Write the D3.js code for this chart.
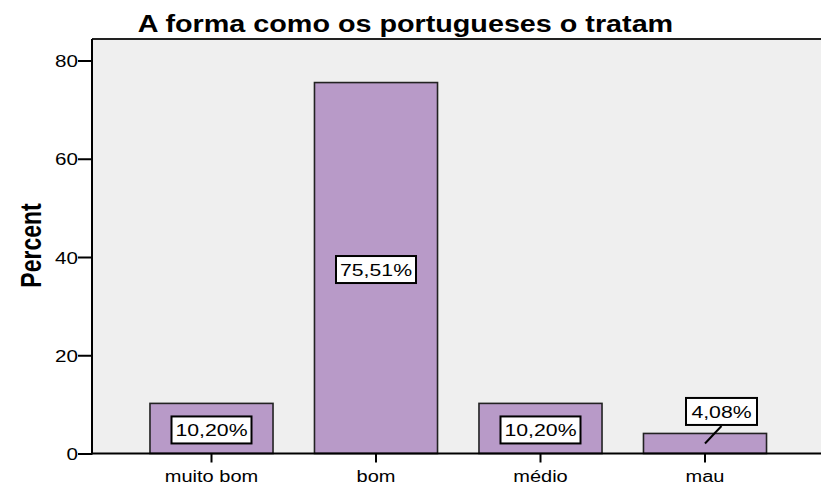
<!DOCTYPE html>
<html>
<head>
<meta charset="utf-8">
<script src="https://cdn.jsdelivr.net/npm/d3@7"></script>
<style>
    body { margin: 0; background: #fff; }
    text { font-family: "Liberation Sans", Arial, sans-serif; fill: #000; }
</style>
</head>
<body>
<div id="chart"></div>
<script>
    /****************************/
    /******data sets & vars******/
    /****************************/
    var categories = ["muito bom", "bom", "médio", "mau"];
    var percents = [10.20, 75.51, 10.20, 4.08];
    var yTicks = [0, 20, 40, 60, 80];
    var title = "A forma como os portugueses o tratam";
    var yTitle = "Percent";

    var w = 821;
    var h = 484;
    var plotLeft = 92;
    var plotTop = 39;
    var plotBottom = 453.5;
    var sx = 1.25;   // the original picture is stretched sideways
    var barFill = "#b89ac8";
    var plotBg = "#efefef";

    var svg = d3.select("#chart")
        .append("svg")
        .attr("width", w)
        .attr("height", h);

    var xScale = d3.scaleBand()
        .domain(categories)
        .range([129.25, 787.25])
        .paddingInner(0.252)
        .paddingOuter(0.126);
    var yScale = d3.scaleLinear()
        .domain([0, 80])
        .range([plotBottom, 60.5]);

    // text helper, everything is drawn with the same horizontal stretch
    function stretchedText(parent, x, y, str, size, weight, anchor, rotate) {
        return parent.append("text")
            .attr("transform", "translate(" + x + "," + y + ") scale(" + sx + ",1)" + (rotate ? " rotate(-90)" : ""))
            .attr("text-anchor", anchor)
            .attr("font-size", size + "px")
            .attr("font-weight", weight)
            .text(str);
    }

    function fmt(d) {
        return d3.format(".2f")(d).replace(".", ",") + "%";
    }

    /****************************/
    /*********plot area**********/
    /****************************/
    svg.append("rect")
        .attr("x", plotLeft)
        .attr("y", plotTop)
        .attr("width", w - plotLeft)
        .attr("height", plotBottom - plotTop)
        .attr("fill", plotBg);
    svg.append("line")
        .attr("x1", plotLeft).attr("x2", w)
        .attr("y1", plotTop).attr("y2", plotTop)
        .attr("stroke", "#222")
        .attr("stroke-width", 2);

    /****************************/
    /***********bars*************/
    /****************************/
    svg.selectAll("rect.bar")
        .data(percents)
        .enter()
        .append("rect")
        .attr("class", "bar")
        .attr("x", function(d, i) { return xScale(categories[i]); })
        .attr("y", function(d) { return yScale(d); })
        .attr("width", xScale.bandwidth())
        .attr("height", function(d) { return plotBottom - yScale(d); })
        .attr("fill", barFill)
        .attr("stroke", "#222")
        .attr("stroke-width", 1.6);

    /****************************/
    /***********axes*************/
    /****************************/
    var yAxis = d3.axisLeft(yScale).tickValues(yTicks).tickSize(14).tickPadding(0);
    var yG = svg.append("g")
        .attr("transform", "translate(" + plotLeft + ",0)")
        .call(yAxis);
    yG.select(".domain").remove();
    yG.selectAll(".tick line").attr("stroke", "#000").attr("stroke-width", 2);
    yG.selectAll(".tick text").remove();
    yG.selectAll(".tick").each(function(d) {
        stretchedText(d3.select(this), -14, 6, d, 16.5, "normal", "end", false);
    });
    svg.append("line")
        .attr("x1", plotLeft).attr("x2", plotLeft)
        .attr("y1", plotTop).attr("y2", plotBottom + 1)
        .attr("stroke", "#000")
        .attr("stroke-width", 2);

    var xAxis = d3.axisBottom(xScale).tickSize(9).tickPadding(0);
    var xG = svg.append("g")
        .attr("transform", "translate(0," + plotBottom + ")")
        .call(xAxis);
    xG.select(".domain").remove();
    xG.selectAll(".tick line").attr("stroke", "#000").attr("stroke-width", 2);
    xG.selectAll(".tick text").remove();
    xG.selectAll(".tick").each(function(d) {
        stretchedText(d3.select(this), 0, 28, d, 16, "normal", "middle", false);
    });
    svg.append("line")
        .attr("x1", plotLeft).attr("x2", w)
        .attr("y1", plotBottom).attr("y2", plotBottom)
        .attr("stroke", "#000")
        .attr("stroke-width", 2);

    /****************************/
    /*******value labels*********/
    /****************************/
    var boxW = 80;
    var boxH = 27;
    percents.forEach(function(d, i) {
        var cx = xScale(categories[i]) + xScale.bandwidth() / 2;
        var barMid = (yScale(d) + plotBottom) / 2;
        var cy = barMid + 1.5;
        var g = svg.append("g");
        var bw = boxW;
        if (plotBottom - yScale(d) < boxH + 4) {
            // short bar: box sits above it with a leader line
            bw = 71;
            var bx = cx + 16.5;
            cy = yScale(d) - 8.5 - boxH / 2;
            g.append("line")
                .attr("x1", bx).attr("y1", cy + boxH / 2 + 1)
                .attr("x2", cx).attr("y2", barMid)
                .attr("stroke", "#000")
                .attr("stroke-width", 2);
            cx = bx;
        }
        g.append("rect")
            .attr("x", cx - bw / 2)
            .attr("y", cy - boxH / 2)
            .attr("width", bw)
            .attr("height", boxH)
            .attr("fill", "#fff")
            .attr("stroke", "#000")
            .attr("stroke-width", 2);
        stretchedText(g, cx, cy + 6.2, fmt(d), 17, "normal", "middle", false);
    });

    /****************************/
    /**********titles************/
    /****************************/
    stretchedText(svg, 405.5, 31.5, title, 23, "bold", "middle", false);
    stretchedText(svg, 41, 245.5, yTitle, 23, "bold", "middle", true);
</script>
</body>
</html>
